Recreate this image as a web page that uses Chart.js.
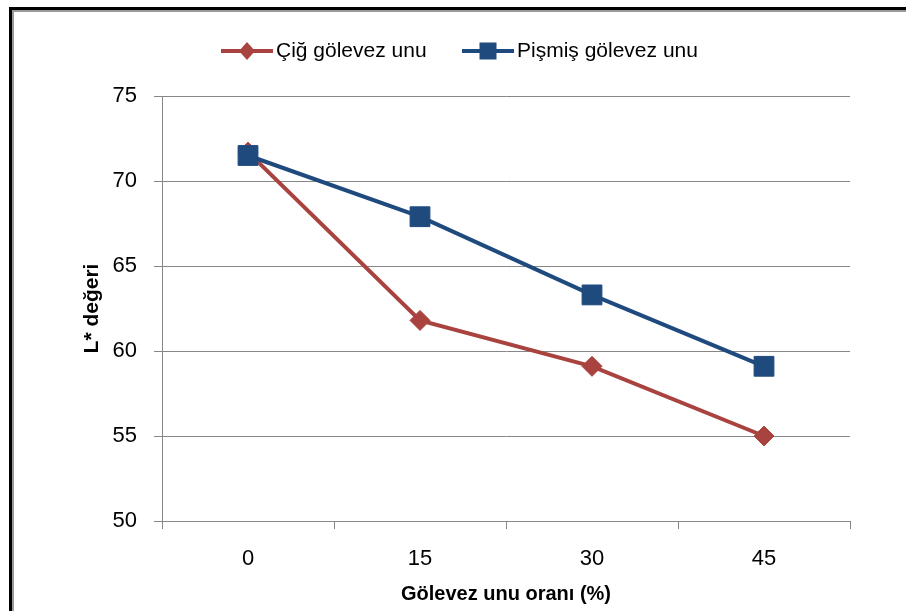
<!DOCTYPE html>
<html lang="tr">
<head>
<meta charset="utf-8">
<title>L* değeri</title>
<script src="https://cdn.jsdelivr.net/npm/chart.js@4.4.1/dist/chart.umd.min.js"></script>
<style>
  html, body { margin: 0; padding: 0; background: #fff; }
  #wrap { position: relative; width: 906px; height: 611px; overflow: hidden; }
  #frame { position: absolute; left: 9px; top: 7px; right: -10px; bottom: -10px;
           border-top: 3px solid #000; border-left: 3px solid #000; }
  #frame-in { position: absolute; inset: 0; border-top: 2px solid #9a9a9a; border-left: 2px solid #9a9a9a; }
  #chart { position: absolute; left: 0; top: 0; }
</style>
</head>
<body>
<div id="wrap">
  <div id="frame"><div id="frame-in"></div></div>
  <canvas id="chart" width="906" height="611"></canvas>
</div>
<script>
// gölevez unu oranı vs L* değeri
const categories = ['0', '15', '30', '45'];
const cigValues = [71.7, 61.8, 59.1, 55.0];
const pismisValues = [71.5, 67.9, 63.3, 59.1];
const yTicks = { min: 50, max: 75, step: 5 };

const RED = '#A9433F';
const BLUE = '#1F4A7E';
const GRID = '#878787';
const FONT = "'Liberation Sans', Arial, sans-serif";

// legend row drawn above the plot: short line with the series marker in the middle
const legendPlugin = {
    id: 'lineLegend',
    afterDraw(chart){
        const ctx = chart.ctx;
        const y = 51;
        const items = [
            { x: 221, ds: chart.data.datasets[0] },
            { x: 462, ds: chart.data.datasets[1] }
        ];
        ctx.save();
        items.forEach(it => {
            const c = it.ds.borderColor;
            ctx.strokeStyle = c;
            ctx.fillStyle = c;
            ctx.lineWidth = 4;
            ctx.beginPath();
            ctx.moveTo(it.x, y);
            ctx.lineTo(it.x + 52, y);
            ctx.stroke();
            const cx = it.x + 26;
            ctx.beginPath();
            if(it.ds.pointStyle === 'rectRot'){
                ctx.moveTo(cx, y - 9); ctx.lineTo(cx + 8, y); ctx.lineTo(cx, y + 9); ctx.lineTo(cx - 8, y);
                ctx.closePath();
            } else {
                ctx.rect(cx - 8.5, y - 8.5, 17, 17);
            }
            ctx.fill();
            ctx.fillStyle = '#000';
            ctx.font = '21px ' + FONT;
            ctx.textAlign = 'left';
            ctx.textBaseline = 'middle';
            ctx.fillText(it.ds.label, it.x + 55, y);
        });
        ctx.restore();
    }
};

new Chart(document.getElementById('chart'), {
    type: 'line',
    data: {
        labels: categories,
        datasets: [
            {
                label: 'Çiğ gölevez unu',
                data: cigValues,
                borderColor: RED,
                backgroundColor: RED,
                borderWidth: 4,
                pointStyle: 'rectRot',
                pointRadius: 10,
                pointBorderWidth: 1,
                order: 1
            },
            {
                label: 'Pişmiş gölevez unu',
                data: pismisValues,
                borderColor: BLUE,
                backgroundColor: BLUE,
                borderWidth: 4,
                pointStyle: 'rect',
                pointRadius: 14,
                pointBorderWidth: 1,
                order: 0
            }
        ]
    },
    options: {
        responsive: false,
        animation: false,
        layout: { padding: { left: 70, right: 56, top: 96, bottom: 0 } },
        plugins: { legend: { display: false }, tooltip: { enabled: false } },
        scales: {
            x: {
                offset: true,
                afterFit(scale){ scale.height = 90; },
                grid: { offset: true, drawOnChartArea: false, drawTicks: true, tickLength: 8, color: GRID },
                border: { color: GRID },
                ticks: { color: '#000', font: { family: FONT, size: 22 }, padding: 17 },
                title: { display: true, text: 'Gölevez unu oranı (%)', color: '#000',
                         font: { family: FONT, size: 20, weight: 'bold' }, padding: { top: 0, bottom: 5 } }
            },
            y: {
                min: yTicks.min,
                max: yTicks.max,
                afterFit(scale){ scale.width = 92; },
                grid: { color: GRID, tickLength: 8 },
                border: { color: GRID },
                ticks: { stepSize: yTicks.step, color: '#000', font: { family: FONT, size: 22 }, padding: 17 },
                title: { display: true, text: 'L* değeri', color: '#000',
                         font: { family: FONT, size: 21, weight: 'bold' }, padding: { top: 10, bottom: 0 } }
            }
        }
    },
    plugins: [legendPlugin]
});
</script>
</body>
</html>
